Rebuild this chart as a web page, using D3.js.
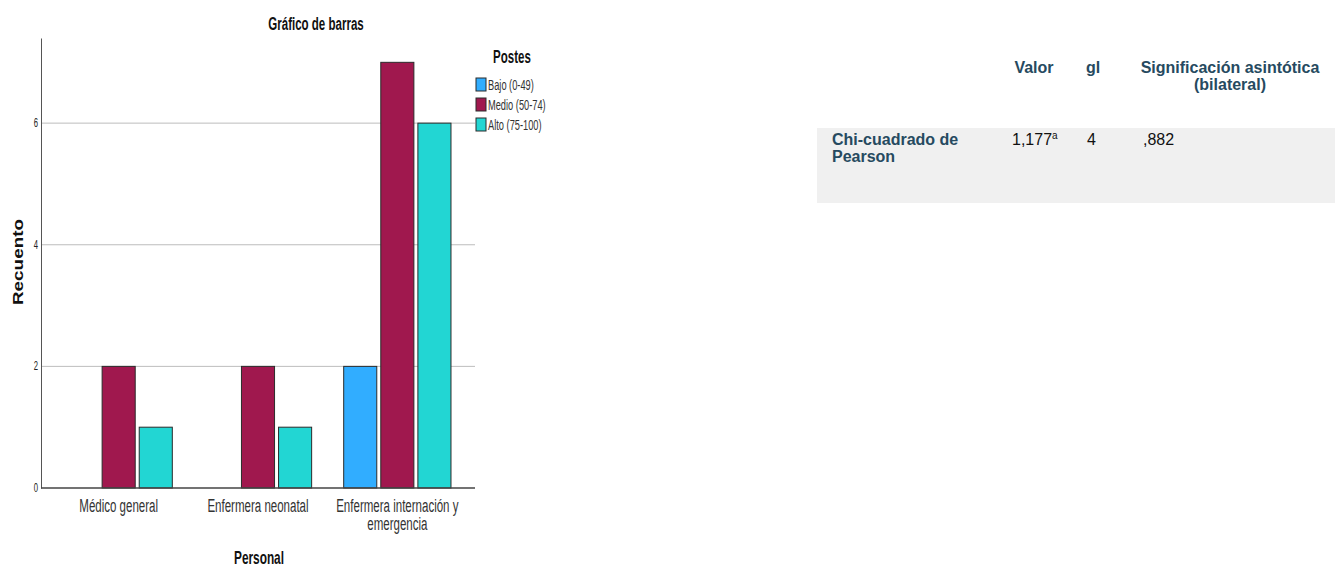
<!DOCTYPE html>
<html>
<head>
<meta charset="utf-8">
<script src="https://cdn.jsdelivr.net/npm/d3@7"></script>
<style>
  body { margin: 0; background: #fff; }
  svg text { font-family: "Liberation Sans", Arial, sans-serif; }
</style>
</head>
<body>
<div id="chart"></div>
<script>
// Data
var categories   = [ "Médico general", "Enfermera neonatal", "Enfermera internación y emergencia" ];
var catLines     = [ ["Médico general"], ["Enfermera neonatal"], ["Enfermera internación y", "emergencia"] ];
var series       = [ "Bajo (0-49)", "Medio (50-74)", "Alto (75-100)" ];
var bajo         = [ 0, 0, 2 ];
var medio        = [ 2, 2, 7 ];
var alto         = [ 1, 1, 6 ];
var yTicks       = [ 0, 2, 4, 6 ];
var colors       = [ "#31adff", "#a0184e", "#22d6d3" ];

// Table data
var tblHeaders   = [ "Valor", "gl", "Significación asintótica|(bilateral)" ];
var tblRowLabel  = [ "Chi-cuadrado de", "Pearson" ];
var tblRowValues = [ "1,177", "4", ",882" ];

var width = 1335, height = 569;
var NARROW = 0.64;   // condensed look of the original font

var svg = d3.select("#chart").append("svg")
    .attr("width", width)
    .attr("height", height);

// narrow text helper: squeezes text horizontally around its anchor point
function ntext(parent, x, y, size, sx) {
    return parent.append("text")
        .attr("transform", "translate(" + x + "," + y + ") scale(" + (sx || NARROW) + ",1)")
        .attr("font-size", size);
}

// Scales
var x0 = d3.scaleBand()
    .domain(categories)
    .range([ 49, 467 ])
    .paddingInner(0.23)
    .paddingOuter(0.115);

var x1 = d3.scaleBand()
    .domain(series)
    .range([ 0, x0.bandwidth() ])
    .paddingInner(0.108);

var y = d3.scaleLinear()
    .domain([ 0, 7.4 ])
    .range([ 488, 38 ]);

var color = d3.scaleOrdinal().domain(series).range(colors);

// Grid lines
svg.append("g")
    .selectAll("line")
    .data(yTicks.filter(d => d > 0))
    .enter().append("line")
    .attr("x1", 41).attr("x2", 475)
    .attr("y1", d => y(d)).attr("y2", d => y(d))
    .attr("stroke", "#bdbdbd").attr("stroke-width", 1);

// Y axis (line + narrow tick labels)
var yAxis = svg.append("g")
    .attr("transform", "translate(41,0)")
    .call(d3.axisLeft(y).tickValues(yTicks).tickSize(0).tickFormat(""));
yAxis.select(".domain").attr("stroke", "#555");
yTicks.forEach(function(t) {
    ntext(svg, 38, y(t) + 4, 12).attr("text-anchor", "end").attr("fill", "#222").text(t);
});

// Bars
var rows = categories.map((c, i) => ({ cat: c, vals: [ bajo[i], medio[i], alto[i] ] }));
var groups = svg.selectAll("g.grp")
    .data(rows)
    .enter().append("g")
    .attr("class", "grp")
    .attr("transform", d => "translate(" + x0(d.cat) + ",0)");

groups.selectAll("rect")
    .data(d => d.vals.map((v, j) => ({ s: series[j], v: v })).filter(e => e.v > 0))
    .enter().append("rect")
    .attr("x", d => x1(d.s))
    .attr("y", d => y(d.v))
    .attr("width", x1.bandwidth())
    .attr("height", d => y(0) - y(d.v))
    .attr("fill", d => color(d.s))
    .attr("stroke", "#2b2b2b")
    .attr("stroke-width", 1);

// X axis line
svg.append("line")
    .attr("x1", 41).attr("x2", 475)
    .attr("y1", y(0)).attr("y2", y(0))
    .attr("stroke", "#444").attr("stroke-width", 1.5);

// X labels
categories.forEach(function(c, i) {
    var t = ntext(svg, x0(c) + x0.bandwidth() / 2, 512, 18)
        .attr("text-anchor", "middle")
        .attr("fill", "#333");
    catLines[i].forEach(function(line, k) {
        t.append("tspan").attr("x", 0).attr("dy", k === 0 ? 0 : 18).text(line);
    });
});

// Titles
ntext(svg, 316, 30, 18)
    .attr("text-anchor", "middle").attr("font-weight", "bold").attr("fill", "#111")
    .text("Gráfico de barras");

ntext(svg, 259, 564, 18.5)
    .attr("text-anchor", "middle").attr("font-weight", "bold").attr("fill", "#111")
    .text("Personal");

svg.append("text")
    .attr("transform", "translate(23,262) rotate(-90) scale(1.35,1)")
    .attr("text-anchor", "middle")
    .attr("font-size", 14).attr("font-weight", "bold")
    .attr("fill", "#111")
    .text("Recuento");

// Legend
ntext(svg, 512, 63, 18)
    .attr("text-anchor", "middle").attr("font-weight", "bold").attr("fill", "#111")
    .text("Postes");

var leg = svg.selectAll("g.leg")
    .data(series)
    .enter().append("g")
    .attr("class", "leg")
    .attr("transform", (d, i) => "translate(476," + (78 + i * 20) + ")");
leg.append("rect")
    .attr("width", 10).attr("height", 13)
    .attr("fill", d => color(d))
    .attr("stroke", "#2b2b2b");
leg.each(function(d) {
    ntext(d3.select(this), 12, 12, 14.5).attr("fill", "#333").text(d);
});

// Table
var tbl = svg.append("g").attr("font-size", 16);
tbl.append("rect")
    .attr("x", 817).attr("y", 128)
    .attr("width", 518).attr("height", 75)
    .attr("fill", "#f0f0f0");

var headX = [ 1034, 1093, 1230 ];
tblHeaders.forEach(function(h, i) {
    var t = tbl.append("text")
        .attr("text-anchor", "middle")
        .attr("font-weight", "bold")
        .attr("fill", "#264a60")
        .attr("y", 73);
    h.split("|").forEach(function(line, k) {
        t.append("tspan").attr("x", headX[i]).attr("dy", k === 0 ? 0 : 17).text(line);
    });
});

var lbl = tbl.append("text")
    .attr("font-weight", "bold").attr("fill", "#264a60")
    .attr("y", 145);
tblRowLabel.forEach(function(line, k) {
    lbl.append("tspan").attr("x", 832).attr("dy", k === 0 ? 0 : 17).text(line);
});

var valX = [ 1012, 1087, 1143 ];
tblRowValues.forEach(function(v, i) {
    var t = tbl.append("text")
        .attr("x", valX[i]).attr("y", 145)
        .attr("fill", "#111")
        .text(v);
    if (i === 0) {
        t.append("tspan").attr("dy", -6).attr("font-size", 10).text("a");
    }
});
</script>
</body>
</html>
